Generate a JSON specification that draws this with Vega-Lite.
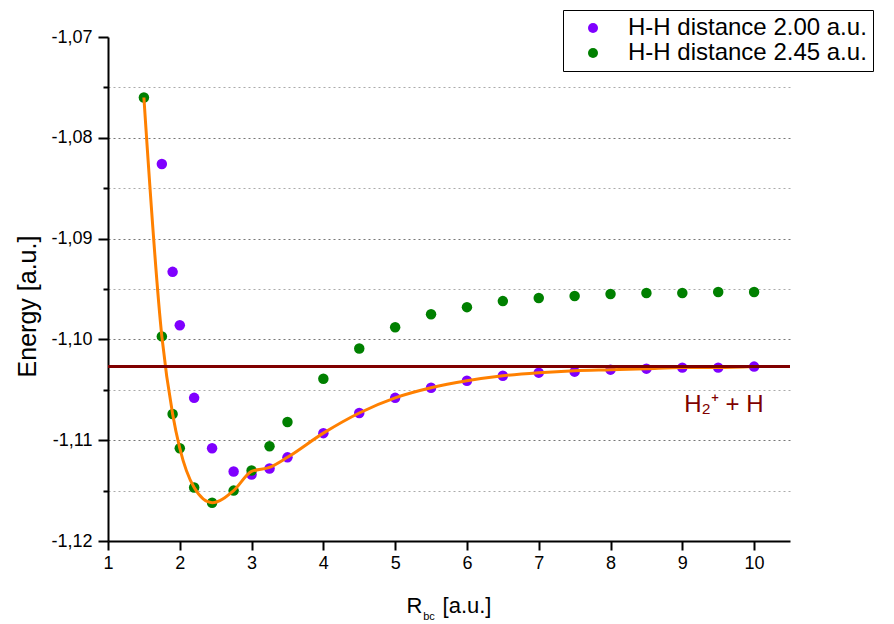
{
  "$schema": "https://vega.github.io/schema/vega-lite/v6.json",
  "width": 682,
  "height": 504,
  "autosize": "none",
  "padding": {"left": 108, "top": 37, "right": 104, "bottom": 83},
  "config": {
    "view": {"stroke": null},
    "font": "Liberation Sans",
    "locale": {"number": {"decimal": ",", "thousands": ".", "grouping": [3], "currency": ["", ""], "minus": "-"}}
  },
  "datasets": {
    "pts": [
      {"r": 1.75, "e": -1.0826, "series": "H-H distance 2.00 a.u."},
      {"r": 1.9, "e": -1.0933, "series": "H-H distance 2.00 a.u."},
      {"r": 2.0, "e": -1.0986, "series": "H-H distance 2.00 a.u."},
      {"r": 2.2, "e": -1.1058, "series": "H-H distance 2.00 a.u."},
      {"r": 2.45, "e": -1.1108, "series": "H-H distance 2.00 a.u."},
      {"r": 2.75, "e": -1.1131, "series": "H-H distance 2.00 a.u."},
      {"r": 3.0, "e": -1.1134, "series": "H-H distance 2.00 a.u."},
      {"r": 3.25, "e": -1.1128, "series": "H-H distance 2.00 a.u."},
      {"r": 3.5, "e": -1.1117, "series": "H-H distance 2.00 a.u."},
      {"r": 4.0, "e": -1.1093, "series": "H-H distance 2.00 a.u."},
      {"r": 4.5, "e": -1.1073, "series": "H-H distance 2.00 a.u."},
      {"r": 5.0, "e": -1.1058, "series": "H-H distance 2.00 a.u."},
      {"r": 5.5, "e": -1.1048, "series": "H-H distance 2.00 a.u."},
      {"r": 6.0, "e": -1.1041, "series": "H-H distance 2.00 a.u."},
      {"r": 6.5, "e": -1.1036, "series": "H-H distance 2.00 a.u."},
      {"r": 7.0, "e": -1.1033, "series": "H-H distance 2.00 a.u."},
      {"r": 7.5, "e": -1.1032, "series": "H-H distance 2.00 a.u."},
      {"r": 8.0, "e": -1.103, "series": "H-H distance 2.00 a.u."},
      {"r": 8.5, "e": -1.1029, "series": "H-H distance 2.00 a.u."},
      {"r": 9.0, "e": -1.1028, "series": "H-H distance 2.00 a.u."},
      {"r": 9.5, "e": -1.1028, "series": "H-H distance 2.00 a.u."},
      {"r": 10.0, "e": -1.1027, "series": "H-H distance 2.00 a.u."},
      {"r": 1.5, "e": -1.076, "series": "H-H distance 2.45 a.u."},
      {"r": 1.75, "e": -1.0997, "series": "H-H distance 2.45 a.u."},
      {"r": 1.9, "e": -1.1074, "series": "H-H distance 2.45 a.u."},
      {"r": 2.0, "e": -1.1108, "series": "H-H distance 2.45 a.u."},
      {"r": 2.2, "e": -1.1147, "series": "H-H distance 2.45 a.u."},
      {"r": 2.45, "e": -1.1162, "series": "H-H distance 2.45 a.u."},
      {"r": 2.75, "e": -1.115, "series": "H-H distance 2.45 a.u."},
      {"r": 3.0, "e": -1.113, "series": "H-H distance 2.45 a.u."},
      {"r": 3.25, "e": -1.1106, "series": "H-H distance 2.45 a.u."},
      {"r": 3.5, "e": -1.1082, "series": "H-H distance 2.45 a.u."},
      {"r": 4.0, "e": -1.1039, "series": "H-H distance 2.45 a.u."},
      {"r": 4.5, "e": -1.1009, "series": "H-H distance 2.45 a.u."},
      {"r": 5.0, "e": -1.0988, "series": "H-H distance 2.45 a.u."},
      {"r": 5.5, "e": -1.0975, "series": "H-H distance 2.45 a.u."},
      {"r": 6.0, "e": -1.0968, "series": "H-H distance 2.45 a.u."},
      {"r": 6.5, "e": -1.0962, "series": "H-H distance 2.45 a.u."},
      {"r": 7.0, "e": -1.0959, "series": "H-H distance 2.45 a.u."},
      {"r": 7.5, "e": -1.0957, "series": "H-H distance 2.45 a.u."},
      {"r": 8.0, "e": -1.0955, "series": "H-H distance 2.45 a.u."},
      {"r": 8.5, "e": -1.0954, "series": "H-H distance 2.45 a.u."},
      {"r": 9.0, "e": -1.0954, "series": "H-H distance 2.45 a.u."},
      {"r": 9.5, "e": -1.0953, "series": "H-H distance 2.45 a.u."},
      {"r": 10.0, "e": -1.0953, "series": "H-H distance 2.45 a.u."}
    ],
    "fit": [
      {"r": 1.5, "e": -1.076},
      {"r": 1.75, "e": -1.0997},
      {"r": 1.9, "e": -1.1074},
      {"r": 2.0, "e": -1.1108},
      {"r": 2.2, "e": -1.1147},
      {"r": 2.45, "e": -1.1162},
      {"r": 2.75, "e": -1.115},
      {"r": 3.0, "e": -1.1131},
      {"r": 3.25, "e": -1.1127},
      {"r": 3.5, "e": -1.1117},
      {"r": 4.0, "e": -1.1093},
      {"r": 4.5, "e": -1.1073},
      {"r": 5.0, "e": -1.1058},
      {"r": 5.5, "e": -1.1048},
      {"r": 6.0, "e": -1.1041},
      {"r": 6.5, "e": -1.1036},
      {"r": 7.0, "e": -1.1033},
      {"r": 7.5, "e": -1.1031},
      {"r": 8.0, "e": -1.103},
      {"r": 8.5, "e": -1.1029},
      {"r": 9.0, "e": -1.1028},
      {"r": 9.5, "e": -1.1028},
      {"r": 10.0, "e": -1.1027}
    ]
  },
  "layer": [
    {
      "data": {"name": "pts"},
      "mark": {"type": "point", "filled": true, "opacity": 1, "size": 110},
      "encoding": {
        "x": {
          "field": "r", "type": "quantitative",
          "scale": {"domain": [1, 10.5], "nice": false, "zero": false},
          "axis": {
            "title": null,
            "values": [1, 1.5, 2, 2.5, 3, 3.5, 4, 4.5, 5, 5.5, 6, 6.5, 7, 7.5, 8, 8.5, 9, 9.5, 10, 10.5],
            "labelExpr": "datum.value % 1 === 0 ? format(datum.value, 'd') : ''",
            "tickSize": {"condition": {"test": "datum.value % 1 === 0", "value": 9}, "value": 5},
            "grid": false,
            "domainColor": "black", "domainWidth": 2,
            "tickColor": "black", "tickWidth": 2,
            "labelFontSize": 18, "labelColor": "black", "labelPadding": 4,
            "labelFont": "Liberation Sans", "labelFlush": false, "labelOverlap": false
          }
        },
        "y": {
          "field": "e", "type": "quantitative",
          "scale": {"domain": [-1.12, -1.07], "nice": false, "zero": false},
          "axis": {
            "title": "Energy [a.u.]",
            "titleFontSize": 25, "titleFontWeight": "normal", "titleColor": "black",
            "titleFont": "Liberation Sans", "titlePadding": 10, "titleY": 269,
            "values": [-1.12, -1.115, -1.11, -1.105, -1.1, -1.095, -1.09, -1.085, -1.08, -1.075, -1.07],
            "labelExpr": "abs(datum.value * 100 - round(datum.value * 100)) < 0.01 ? replace(replace(format(datum.value, '.2f'), '.', ','), '\u2212', '-') : ''",
            "tickSize": {"condition": {"test": "abs(datum.value * 100 - round(datum.value * 100)) < 0.01", "value": 10}, "value": 5},
            "grid": true,
            "gridDash": [2, 3],
            "gridColor": {"condition": {"test": "abs(datum.value * 100 - round(datum.value * 100)) < 0.01", "value": "#777777"}, "value": "#aaaaaa"},
            "gridOpacity": {"condition": {"test": "datum.value > -1.0705 || datum.value < -1.1195", "value": 0}, "value": 1},
            "gridWidth": 1,
            "domainColor": "black", "domainWidth": 2,
            "tickColor": "black", "tickWidth": 2,
            "labelFontSize": 18, "labelColor": "black", "labelPadding": 6,
            "labelFont": "Liberation Sans", "labelFlush": false, "labelOverlap": false
          }
        },
        "color": {
          "field": "series", "type": "nominal",
          "scale": {"domain": ["H-H distance 2.00 a.u.", "H-H distance 2.45 a.u."], "range": ["#7f00ff", "#008000"]},
          "legend": {
            "title": null, "orient": "none", "legendX": 455, "legendY": -27,
            "strokeColor": "black", "fillColor": "white", "padding": 6,
            "labelFontSize": 24, "labelFont": "Liberation Sans", "labelColor": "black", "labelLimit": 400,
            "symbolType": "circle", "symbolSize": 100, "symbolStrokeWidth": 0,
            "symbolOffset": 12, "labelOffset": 23, "rowPadding": 1
          }
        }
      }
    },
    {
      "data": {"name": "fit"},
      "mark": {"type": "line", "interpolate": "monotone", "color": "#ff8000", "strokeWidth": 3},
      "encoding": {
        "x": {"field": "r", "type": "quantitative", "scale": {"domain": [1, 10.5], "nice": false, "zero": false}},
        "y": {"field": "e", "type": "quantitative", "scale": {"domain": [-1.12, -1.07], "nice": false, "zero": false}}
      }
    },
    {
      "data": {"values": [{}]},
      "mark": {"type": "rule", "color": "#800000", "strokeWidth": 3},
      "encoding": {
        "y": {"datum": -1.1027, "type": "quantitative", "scale": {"domain": [-1.12, -1.07], "nice": false, "zero": false}}
      }
    },
    {
      "data": {"values": [{}]},
      "mark": {"type": "text", "text": "H\u2082\u207a + H", "color": "#800000", "fontSize": 24, "font": "Liberation Sans", "align": "center", "baseline": "middle"},
      "encoding": {
        "x": {"datum": 9.58, "type": "quantitative"},
        "y": {"datum": -1.1065, "type": "quantitative"}
      }
    },
    {
      "data": {"values": [{}]},
      "mark": {"type": "text", "text": "R", "color": "black", "fontSize": 22, "font": "Liberation Sans", "align": "right", "baseline": "alphabetic"},
      "encoding": {
        "x": {"datum": 5.38, "type": "quantitative"},
        "y": {"datum": -1.12717, "type": "quantitative"}
      }
    },
    {
      "data": {"values": [{}]},
      "mark": {"type": "text", "text": "bc", "color": "black", "fontSize": 11, "font": "Liberation Sans", "align": "left", "baseline": "alphabetic"},
      "encoding": {
        "x": {"datum": 5.39, "type": "quantitative"},
        "y": {"datum": -1.12787, "type": "quantitative"}
      }
    },
    {
      "data": {"values": [{}]},
      "mark": {"type": "text", "text": "[a.u.]", "color": "black", "fontSize": 22, "font": "Liberation Sans", "align": "left", "baseline": "alphabetic"},
      "encoding": {
        "x": {"datum": 5.66, "type": "quantitative"},
        "y": {"datum": -1.12717, "type": "quantitative"}
      }
    }
  ]
}
